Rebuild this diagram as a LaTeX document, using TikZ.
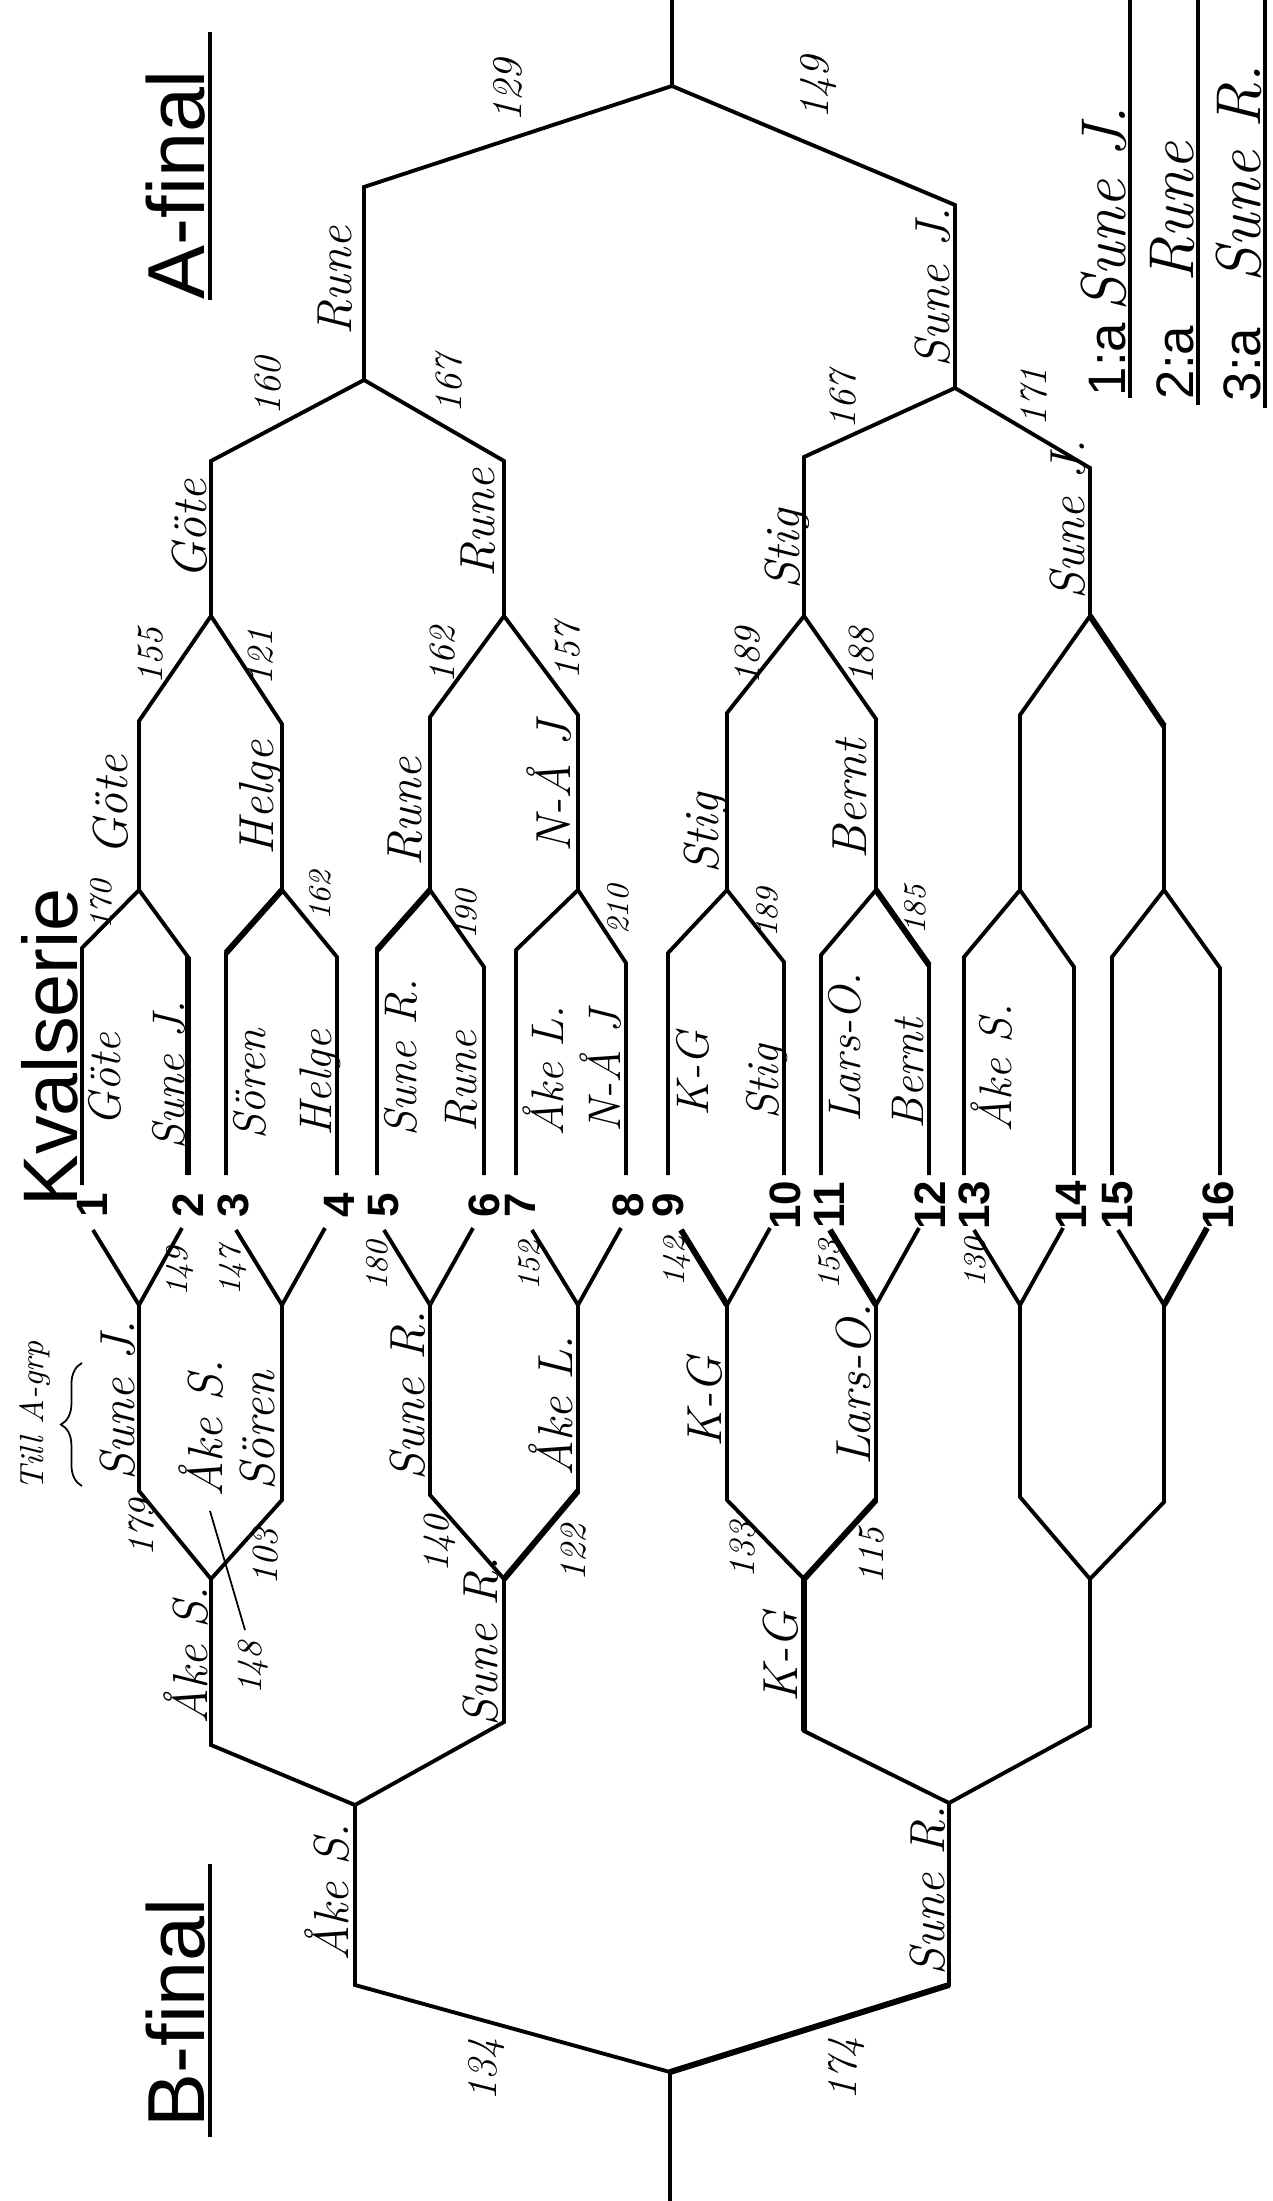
\documentclass[tikz,border=0pt]{standalone}
\usepackage{fontspec}
\newfontfamily\printfont{Liberation Sans}
\usetikzlibrary{decorations.pathreplacing}
\begin{document}
\begin{tikzpicture}[x=0.01cm,y=-0.01cm,
  bracket/.style={line width=1.1pt},
  heavy/.style={line width=1.7pt},
  fine/.style={line width=0.5pt},
  lab/.style={rotate=90,inner sep=0pt},
  nm/.style={lab,font=\fontsize{14}{14}\selectfont\itshape},
  sn/.style={lab,font=\fontsize{13}{13}\selectfont\itshape},
  num/.style={lab,font=\fontsize{#1}{#1}\selectfont\itshape},
  slotno/.style={lab,font=\printfont\bfseries\fontsize{12.5}{12.5}\selectfont},
  title/.style={lab,font=\printfont\fontsize{23}{23}\selectfont},
  rankno/.style={lab,font=\printfont\fontsize{15}{15}\selectfont},
  rankname/.style={lab,font=\fontsize{18}{18}\selectfont\itshape}
]
\fill[white] (0,0) rectangle (1272,2201);
\useasboundingbox (0,0) rectangle (1272,2201);

% ---------- coordinates ----------
\foreach \i/\x/\t in {1/82/948,2/188/957,3/226/953,4/337/957,5/377/950,6/484/967,7/516/950,8/626/963,9/668/953,10/784/962,11/821/955,12/929/965,13/964/957,14/1074/967,15/1112/957,16/1220/968}{
  \coordinate (At\i) at (\x,\t);
  \coordinate (Ab\i) at (\x,1175);
}
\coordinate (Ab1) at (82,1185);

\foreach \i/\x/\ya/\yb in {1/139/721/1491,2/282/724/1500,3/430/717/1495,4/578/715/1491,5/727/713/1500,6/876/719/1500,7/1020/715/1497,8/1164/726/1502}{
  \coordinate (Aj\i) at (\x,890);
  \coordinate (Ak\i) at (\x,\ya);
  \coordinate (Bj\i) at (\x,1305);
  \coordinate (Bk\i) at (\x,\yb);
  \coordinate (Bl\i) at (\x-46,1230);
  \coordinate (Br\i) at (\x+43,1228);
}
\foreach \i/\x/\ya/\yb in {1/211/461/1745,2/504/461/1722,3/804/457/1731,4/1090/468/1726}{
  \coordinate (Am\i) at (\x,616);
  \coordinate (An\i) at (\x,\ya);
  \coordinate (Bm\i) at (\x,1579);
  \coordinate (Bn\i) at (\x,\yb);
}
\coordinate (Ap1) at (364,380); \coordinate (Aq1) at (364,187);
\coordinate (Ap2) at (955,388); \coordinate (Aq2) at (955,205);
\coordinate (Af) at (672,86);   \coordinate (Atop) at (672,0);
\coordinate (Bp1) at (355,1805); \coordinate (Bq1) at (355,1985);
\coordinate (Bp2) at (949,1803); \coordinate (Bq2) at (949,1985);
\coordinate (Bf) at (670,2072);  \coordinate (Bbot) at (670,2201);

% ---------- bracket lines ----------
\foreach \i/\a/\b in {1/1/2,2/3/4,3/5/6,4/7/8,5/9/10,6/11/12,7/13/14,8/15/16}{
  \draw[bracket] (Ab\a) -- (At\a) -- (Aj\i) -- (At\b) -- (Ab\b);
  \draw[bracket] (Bl\i) -- (Bj\i) -- (Br\i);
}
\foreach \g/\a/\b in {1/1/2,2/3/4,3/5/6,4/7/8}{
  \draw[bracket] (Aj\a) -- (Ak\a) -- (Am\g) -- (Ak\b) -- (Aj\b);
  \draw[bracket] (Bj\a) -- (Bk\a) -- (Bm\g) -- (Bk\b) -- (Bj\b);
}
\draw[bracket] (Am1) -- (An1) -- (Ap1) -- (An2) -- (Am2);
\draw[bracket] (Am3) -- (An3) -- (Ap2) -- (An4) -- (Am4);
\draw[bracket] (Bm1) -- (Bn1) -- (Bp1) -- (Bn2) -- (Bm2);
\draw[bracket] (Bm3) -- (Bn3) -- (Bp2) -- (Bn4) -- (Bm4);
\draw[bracket] (Ap1) -- (Aq1) -- (Af) -- (Aq2) -- (Ap2);
\draw[bracket] (Af) -- (Atop);
\draw[bracket] (Bp1) -- (Bq1) -- (Bf) -- (Bq2) -- (Bp2);
\draw[bracket] (Bf) -- (Bbot);
% heavier pen strokes
\draw[heavy] (Ab2) -- (At2);
\draw[heavy] (At3) -- (Aj2);
\draw[heavy] (At5) -- (Aj3);
\draw[heavy] (At12) -- (Aj6);
\draw[heavy] (Ak8) -- (Am4);
\draw[heavy] (Bl5) -- (Bj5);
\draw[heavy] (Bl6) -- (Bj6);
\draw[heavy] (Br8) -- (Bj8);
\draw[heavy] (Bk4) -- (Bm2);
\draw[heavy] (Bk6) -- (Bm3);
\draw[heavy] (Bm3) -- (Bn3);
\draw[heavy] (Bq2) -- (Bf);

% ---------- slot numbers ----------
\foreach \i/\x in {1/92,2/188,3/233,4/339,5/384,6/484,7/520,8/628,9/668,10/785,11/829,12/930,13/974,14/1071,15/1118,16/1218}{
  \node[slotno] (no\i) at (\x,1205) {\i};
}

% ---------- titles ----------
\coordinate (uAt) at (210,32);   \coordinate (uAb) at (210,300);
\coordinate (uBt) at (210,1864); \coordinate (uBb) at (210,2137);
\draw[bracket] (uAt) -- (uAb);
\draw[bracket] (uBt) -- (uBb);
\node[title,anchor=base west] (tA) at (204,300) {A-final};
\node[title,anchor=base west] (tB) at (204,2128) {B-final};
\node[lab,font=\printfont\fontsize{22}{22}\selectfont,anchor=base west] (tK) at (77,1207) {Kvalserie};

% ---------- final ranking ----------
\coordinate (L1t) at (1130,0); \coordinate (L1b) at (1130,398);
\coordinate (L2t) at (1198,0); \coordinate (L2b) at (1198,405);
\coordinate (L3t) at (1265,0); \coordinate (L3b) at (1265,408);
\draw[bracket] (L1t) -- (L1b);
\draw[bracket] (L2t) -- (L2b);
\draw[bracket] (L3t) -- (L3b);
\node[rankno,anchor=base west] (rk1) at (1125,397) {1:a};
\node[rankname,anchor=base west] (rn1) at (1125,312) {Sune J.};
\node[rankno,anchor=base west] (rk2) at (1193,400) {2:a};
\node[rankname,anchor=base west] (rn2) at (1193,283) {Rune};
\node[rankno,anchor=base west] (rk3) at (1260,402) {3:a};
\node[rankname,anchor=base west] (rn3) at (1260,283) {Sune R.};

% ---------- A side names ----------
\node[nm,anchor=base west] (aF1) at (351,336) {Rune};
\node[nm,anchor=base west] (aF2) at (949,368) {Sune J.};
\node[nm,anchor=base west] (aS1) at (206,580) {Göte};
\node[nm,anchor=base west] (aS2) at (494,578) {Rune};
\node[nm,anchor=base west] (aS3) at (799,590) {Stig};
\node[nm,anchor=base west] (aS4) at (1084,600) {Sune J.};
\node[nm,anchor=base west] (aQ1) at (127,856) {Göte};
\node[nm,anchor=base west] (aQ2) at (273,856) {Helge};
\node[nm,anchor=base west] (aQ3) at (421,867) {Rune};
\node[nm,anchor=base west] (aQ4) at (570,853) {N-Å J};
\node[nm,anchor=base west] (aQ5) at (718,874) {Stig};
\node[nm,anchor=base west] (aQ6) at (866,860) {Bernt};
% slot names
\node[sn,anchor=north west] (p1) at (88,1127) {Göte};
\node[sn,anchor=base west] (p2) at (184,1150) {Sune J.};
\node[sn,anchor=north west] (p3) at (233,1140) {Sören};
\node[sn,anchor=base west] (p4) at (331,1137) {Helge};
\node[sn,anchor=north west] (p5) at (384,1137) {Sune R.};
\node[sn,anchor=base west] (p6) at (476,1133) {Rune};
\node[sn,anchor=north west] (p7) at (522,1137) {Åke L.};
\node[sn,anchor=base west] (p8) at (620,1133) {N-Å J};
\node[sn,anchor=north west] (p9) at (676,1117) {K-G};
\node[sn,anchor=base west] (p10) at (778,1120) {Stig};
\node[sn,anchor=north west] (p11) at (828,1123) {Lars-O.};
\node[sn,anchor=base west] (p12) at (923,1130) {Bernt};
\node[sn,anchor=north west] (p13) at (970,1133) {Åke S.};

% ---------- A side scores ----------
\node[num=12] (sa1) at (508,91) {129};
\node[num=12] (sa2) at (819,88) {149};
\node[num=11] (sb1) at (268,386) {160};
\node[num=11] (sb2) at (449,384) {167};
\node[num=11] (sb3) at (843,400) {167};
\node[num=11] (sb4) at (1034,397) {171};
\node[num=10.5] (sc1) at (151,656) {155};
\node[num=10.5] (sc2) at (261,657) {121};
\node[num=10.5] (sc3) at (443,655) {162};
\node[num=10.5] (sc4) at (568,651) {157};
\node[num=10.5] (sc5) at (748,656) {189};
\node[num=10.5] (sc6) at (862,656) {188};
\node[num=9] (sd1) at (101,905) {170};
\node[num=9] (sd2) at (320,896) {162};
\node[num=9] (sd3) at (466,915) {190};
\node[num=9] (sd4) at (618,910) {210};
\node[num=9] (sd5) at (767,913) {189};
\node[num=9] (sd6) at (915,910) {185};

% ---------- B side scores ----------
\node[num=9] (se1) at (180,1272) {149};
\node[num=9] (se2) at (233,1271) {147};
\node[num=9] (se3) at (377,1266) {180};
\node[num=9] (se4) at (529,1266) {152};
\node[num=9] (se5) at (677,1262) {142};
\node[num=9] (se6) at (829,1265) {153};
\node[num=9] (se7) at (975,1263) {130};
\node[num=10.5] (sf1) at (142,1528) {179};
\node[num=10.5] (sf2) at (266,1557) {103};
\node[num=10.5] (sf3) at (440,1544) {140};
\node[num=10.5] (sf4) at (574,1553) {122};
\node[num=10.5] (sf5) at (743,1550) {133};
\node[num=10.5] (sf6) at (872,1556) {115};
\node[num=10] (sg1) at (253,1668) {148};
\node[num=12] (sh1) at (487,2070) {134};
\node[num=12] (sh2) at (847,2069) {174};

% ---------- B side names ----------
\node[nm,anchor=base west] (bQ1) at (134,1481) {Sune J.};
\node[nm,anchor=base west] (bQ2) at (222,1498) {Åke S.};
\node[nm,anchor=base west] (bQ2b) at (274,1491) {Sören};
\node[nm,anchor=base west] (bQ3) at (424,1481) {Sune R.};
\node[nm,anchor=base west] (bQ4) at (572,1477) {Åke L.};
\node[nm,anchor=base west] (bQ5) at (721,1448) {K-G};
\node[nm,anchor=base west] (bQ6) at (870,1466) {Lars-O.};
\node[nm,anchor=base west] (bS1) at (207,1725) {Åke S.};
\node[nm,anchor=base west] (bS2) at (497,1727) {Sune R.};
\node[nm,anchor=base west] (bS3) at (797,1703) {K-G};
\node[nm,anchor=base west] (bF1) at (348,1962) {Åke S.};
\node[nm,anchor=base west] (bF2) at (944,1976) {Sune R.};

% annotation
\node[num=9.5,anchor=base west] (till) at (43,1491) {Till A-grp};
\coordinate (brA) at (82,1486); \coordinate (brB) at (82,1363);
\draw[fine,decorate,decoration={brace,amplitude=6pt}] (brA) -- (brB);
\coordinate (ptA) at (210,1511); \coordinate (ptB) at (245,1630);
\draw[fine] (ptA) -- (ptB);
\end{tikzpicture}
\end{document}
